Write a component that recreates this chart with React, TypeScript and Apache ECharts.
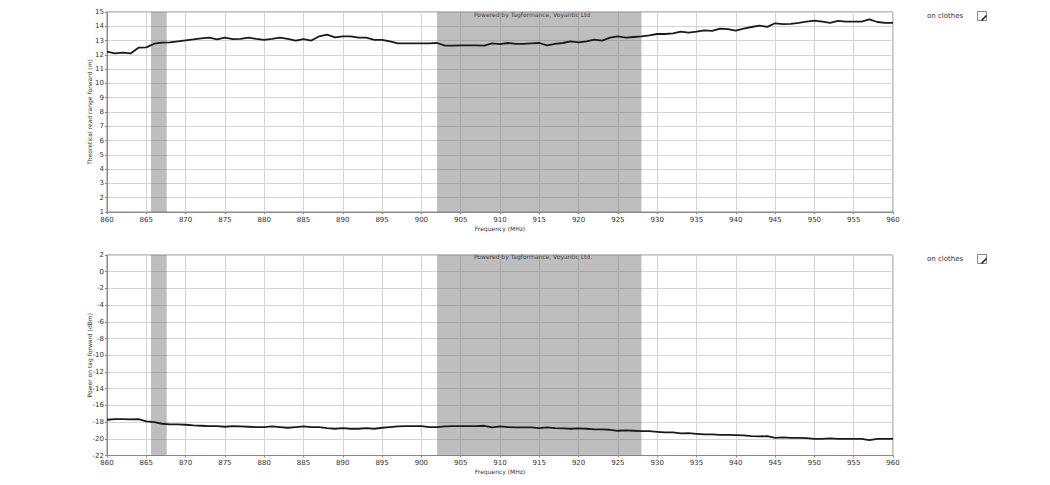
import React, { useEffect, useRef } from "react";
import * as echarts from "echarts";

const freqs: number[] = [];
for (let f = 860; f <= 960; f++) freqs.push(f);

const readRange = [
  12.22, 12.11, 12.15, 12.1, 12.5, 12.52, 12.78, 12.85, 12.88, 12.95,
  13.02, 13.08, 13.15, 13.2, 13.08, 13.2, 13.1, 13.12, 13.2, 13.12,
  13.05, 13.12, 13.2, 13.12, 13.0, 13.1, 13.0, 13.3, 13.41, 13.22,
  13.3, 13.3, 13.2, 13.2, 13.05, 13.05, 12.95, 12.8, 12.8, 12.8,
  12.8, 12.8, 12.83, 12.64, 12.64, 12.67, 12.67, 12.67, 12.64, 12.8,
  12.75, 12.83, 12.77, 12.77, 12.8, 12.83, 12.67, 12.77, 12.83, 12.95,
  12.87, 12.95, 13.06, 13.0, 13.2, 13.3, 13.2, 13.25, 13.3, 13.36,
  13.46, 13.46, 13.5, 13.62, 13.55, 13.62, 13.72, 13.68, 13.84, 13.8,
  13.7, 13.84, 13.95, 14.05, 13.96, 14.21, 14.15, 14.17, 14.24, 14.33,
  14.4, 14.33, 14.24, 14.38, 14.33, 14.33, 14.33, 14.48, 14.3, 14.24,
  14.24,
];

const powerOnTag = [
  -17.72, -17.64, -17.64, -17.68, -17.64, -17.92, -18.0, -18.2, -18.28, -18.28,
  -18.32, -18.4, -18.44, -18.48, -18.48, -18.56, -18.48, -18.52, -18.56, -18.6,
  -18.6, -18.52, -18.6, -18.68, -18.6, -18.52, -18.6, -18.6, -18.72, -18.8,
  -18.72, -18.8, -18.8, -18.72, -18.8, -18.68, -18.6, -18.52, -18.48, -18.48,
  -18.48, -18.6, -18.6, -18.52, -18.48, -18.48, -18.48, -18.48, -18.44, -18.64,
  -18.52, -18.6, -18.64, -18.64, -18.64, -18.72, -18.64, -18.72, -18.76, -18.8,
  -18.76, -18.8, -18.88, -18.88, -18.92, -19.04, -19.0, -19.04, -19.08, -19.08,
  -19.16, -19.24, -19.24, -19.36, -19.32, -19.4, -19.48, -19.48, -19.52, -19.54,
  -19.56, -19.6, -19.68, -19.72, -19.68, -19.88, -19.84, -19.88, -19.88, -19.92,
  -20.0, -20.0, -19.96, -20.0, -20.0, -20.0, -20.0, -20.16, -20.0, -20.0,
  -20.0,
];

const bands: [number, number][] = [
  [865.6, 867.6],
  [902, 928],
];

const seriesName = "on clothes";
const credit = "Powered by Tagformance, Voyantic Ltd.";
const xName = "Frequency (MHz)";
const yNameTop = "Theoretical read range forward (m)";
const yNameBottom = "Power on tag forward (dBm)";

const FONT = "'DejaVu Sans', sans-serif";
const gridColor = "#d4d4d4";
const axisColor = "#8a8a8a";

function xAxisCfg(gridIndex: number) {
  return {
    type: "value",
    gridIndex,
    min: 860,
    max: 960,
    interval: 5,
    name: xName,
    nameLocation: "middle",
    nameGap: 13,
    nameTextStyle: { fontSize: 6, color: "#333", fontFamily: FONT },
    axisLine: { show: true, onZero: false, lineStyle: { color: axisColor } },
    axisTick: { show: true, length: 2, lineStyle: { color: axisColor } },
    axisLabel: { fontSize: 7, color: "#333", margin: 4, fontFamily: FONT },
    splitLine: { show: true, lineStyle: { color: gridColor, width: 1 } },
  };
}

function yAxisCfg(gridIndex: number, min: number, max: number, interval: number, name: string) {
  return {
    type: "value",
    gridIndex,
    min,
    max,
    interval,
    name,
    nameLocation: "middle",
    nameGap: 15,
    nameMoveOverlap: false,
    nameTextStyle: { fontSize: 6, color: "#333", fontFamily: FONT },
    axisLine: { show: true, onZero: false, lineStyle: { color: axisColor } },
    axisTick: { show: true, length: 2, lineStyle: { color: axisColor } },
    axisLabel: { fontSize: 7, color: "#333", margin: 3, fontFamily: FONT },
    splitLine: { show: true, lineStyle: { color: gridColor, width: 1 } },
  };
}

function markAreaCfg() {
  return {
    silent: true,
    itemStyle: { color: "rgba(120,120,120,0.48)" },
    data: bands.map(([a, b]) => [{ xAxis: a }, { xAxis: b }]),
  };
}

function legendGraphic(top: number) {
  return [
    {
      type: "text",
      left: 927,
      top: top,
      style: { text: seriesName, fontSize: 7, fill: "#333", fontFamily: FONT },
    },
    {
      type: "rect",
      left: 977,
      top: top - 1,
      shape: { x: 0, y: 0, width: 9, height: 9 },
      style: { fill: "#fff", stroke: "#888", lineWidth: 1 },
    },
    {
      type: "line",
      left: 979,
      top: top + 1,
      shape: { x1: 0, y1: 5, x2: 5, y2: 0 },
      style: { stroke: "#111", lineWidth: 1.5 },
    },
  ];
}

export default function App() {
  const ref = useRef<HTMLDivElement>(null);
  useEffect(() => {
    if (!ref.current) return;
    const chart = echarts.init(ref.current, null, { renderer: "svg" });
    chart.setOption({
      animation: false,
      backgroundColor: "#fff",
      grid: [
        { left: 107, right: 157, top: 12, height: 200, show: true, borderColor: axisColor, borderWidth: 1 },
        { left: 107, right: 157, top: 255, height: 200.5, show: true, borderColor: axisColor, borderWidth: 1 },
      ],
      xAxis: [xAxisCfg(0), xAxisCfg(1)],
      yAxis: [
        yAxisCfg(0, 1, 15, 1, yNameTop),
        yAxisCfg(1, -22, 2, 2, yNameBottom),
      ],
      title: [
        {
          text: credit,
          left: 528,
          top: 6,
          textAlign: "center",
          textStyle: { fontSize: 6, fontWeight: "normal", color: "#444", fontFamily: FONT },
        },
        {
          text: credit,
          left: 528,
          top: 248,
          textAlign: "center",
          textStyle: { fontSize: 6, fontWeight: "normal", color: "#444", fontFamily: FONT },
        },
      ],
      graphic: [...legendGraphic(12), ...legendGraphic(255)],
      series: [
        {
          name: seriesName,
          type: "line",
          xAxisIndex: 0,
          yAxisIndex: 0,
          data: freqs.map((f, i) => [f, readRange[i]]),
          showSymbol: false,
          lineStyle: { color: "#1a1a1a", width: 1.8 },
          markArea: markAreaCfg(),
          z: 3,
        },
        {
          name: seriesName,
          type: "line",
          xAxisIndex: 1,
          yAxisIndex: 1,
          data: freqs.map((f, i) => [f, powerOnTag[i]]),
          showSymbol: false,
          lineStyle: { color: "#1a1a1a", width: 1.8 },
          markArea: markAreaCfg(),
          z: 3,
        },
      ],
    });
    return () => chart.dispose();
  }, []);
  return (
    <div
      ref={ref}
      style={{ position: "fixed", left: 0, top: 0, width: 1050, height: 485, background: "#fff" }}
    />
  );
}
